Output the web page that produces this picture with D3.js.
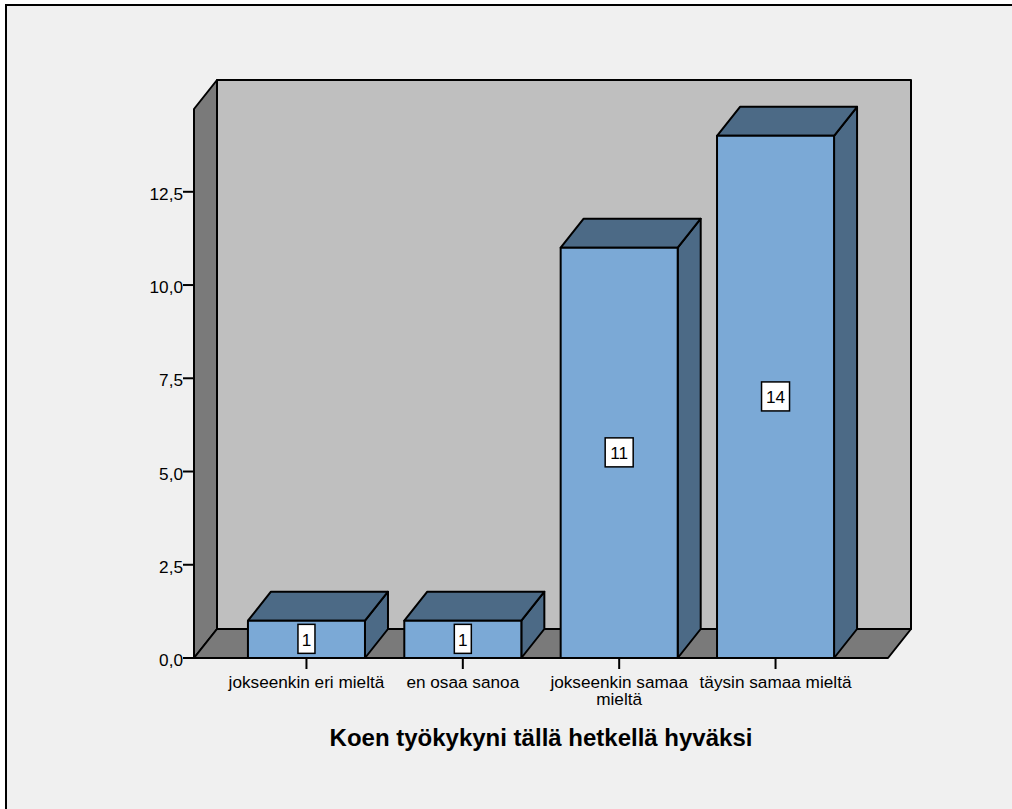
<!DOCTYPE html>
<html>
<head>
<meta charset="utf-8">
<script src="https://cdn.jsdelivr.net/npm/d3@7/dist/d3.min.js"></script>
<style>
html,body{margin:0;padding:0;background:#fff;overflow:hidden}
svg{display:block}
text{font-family:"Liberation Sans",Arial,sans-serif;fill:#000}
</style>
</head>
<body>
<svg id="chart" width="1012" height="809"></svg>
<script>
// Response counts per answer option
const categories = ["jokseenkin eri mieltä", "en osaa sanoa", "jokseenkin samaa mieltä", "täysin samaa mieltä"];
const counts = [1, 1, 11, 14];
const yTicks = [0, 2.5, 5, 7.5, 10, 12.5];
const axisTitle = "Koen työkykyni tällä hetkellä hyväksi";

const svg = d3.select("#chart");
const ink = "#000";
const wallFill = "#bfbfbf", sideFill = "#7a7a7a";
const barFront = "#7ba9d6", barShade = "#4c6a86";
const labelSize = 17.2;

// Front plane of the plot and the oblique offset of the 3D box
const plotLeft = 194, plotRight = 888, base = 658, depthX = 23, depthY = -29;
const yMax = 14.72;

const x = d3.scaleBand().domain(categories).range([plotLeft, plotRight])
  .paddingInner(0.2515).paddingOuter(0.345);
const y = d3.scaleLinear().domain([0, yMax]).range([base, 109]);

// Panel background with its frame running off the right and bottom edges
svg.append("rect").attr("x", 6).attr("y", 5).attr("width", 1012).attr("height", 810)
  .attr("fill", "#f0f0f0").attr("stroke", ink).attr("stroke-width", 2);

const poly = (pts, fill) => svg.append("polygon")
  .attr("points", pts.map(p => p.join(",")).join(" "))
  .attr("fill", fill).attr("stroke", ink).attr("stroke-width", 2)
  .attr("stroke-linejoin", "round");

const yTop = y(yMax);
// Back wall, left wall and floor
poly([[plotLeft + depthX, yTop + depthY], [plotRight + depthX, yTop + depthY], [plotRight + depthX, base + depthY], [plotLeft + depthX, base + depthY]], wallFill);
poly([[plotLeft, yTop], [plotLeft + depthX, yTop + depthY], [plotLeft + depthX, base + depthY], [plotLeft, base]], sideFill);
poly([[plotLeft, base], [plotLeft + depthX, base + depthY], [plotRight + depthX, base + depthY], [plotRight, base]], sideFill);

// Value axis
const yAxis = svg.append("g").selectAll("g").data(yTicks).join("g")
  .attr("transform", d => `translate(0,${y(d)})`);
yAxis.append("line").attr("x1", plotLeft - 11).attr("x2", plotLeft).attr("stroke", ink).attr("stroke-width", 2);
yAxis.append("text").attr("x", plotLeft - 11).attr("y", 8).attr("text-anchor", "end")
  .attr("font-size", labelSize).text(d => d3.format(".1f")(d).replace(".", ","));

// Bars, each with top and side faces
categories.forEach((c, i) => {
  const x0 = x(c), x1 = x0 + x.bandwidth(), yt = y(counts[i]);
  poly([[x1, yt], [x1 + depthX, yt + depthY], [x1 + depthX, base + depthY], [x1, base]], barShade);
  poly([[x0, yt], [x0 + depthX, yt + depthY], [x1 + depthX, yt + depthY], [x1, yt]], barShade);
  poly([[x0, yt], [x1, yt], [x1, base], [x0, base]], barFront);
});

// Floor front edge redrawn over the bar bases
svg.append("line").attr("x1", plotLeft).attr("x2", plotRight).attr("y1", base).attr("y2", base)
  .attr("stroke", ink).attr("stroke-width", 2);

// Count labels at the middle of each bar
categories.forEach((c, i) => {
  const cx = x(c) + x.bandwidth() / 2, cy = y(counts[i] / 2);
  const w = String(counts[i]).length > 1 ? 28 : 17;
  svg.append("rect").attr("x", cx - w / 2).attr("y", cy - 15).attr("width", w).attr("height", 29)
    .attr("fill", "#fff").attr("stroke", ink).attr("stroke-width", 1.5);
  svg.append("text").attr("x", cx).attr("y", cy + 6.5).attr("text-anchor", "middle")
    .attr("font-size", labelSize).text(counts[i]);
});

// Category axis ticks and wrapped labels
categories.forEach(c => {
  const cx = x(c) + x.bandwidth() / 2;
  svg.append("line").attr("x1", cx).attr("x2", cx).attr("y1", base).attr("y2", base + 11)
    .attr("stroke", ink).attr("stroke-width", 2);
  const lines = c === "jokseenkin samaa mieltä" ? ["jokseenkin samaa", "mieltä"] : [c];
  const label = svg.append("text").attr("y", 688)
    .attr("text-anchor", "middle").attr("font-size", labelSize);
  lines.forEach((l, j) => label.append("tspan").attr("x", cx).attr("dy", j ? 17 : 0).text(l));
});

svg.append("text").attr("x", 541).attr("y", 746).attr("text-anchor", "middle")
  .attr("font-size", 24).attr("font-weight", "bold").text(axisTitle);
</script>
</body>
</html>
